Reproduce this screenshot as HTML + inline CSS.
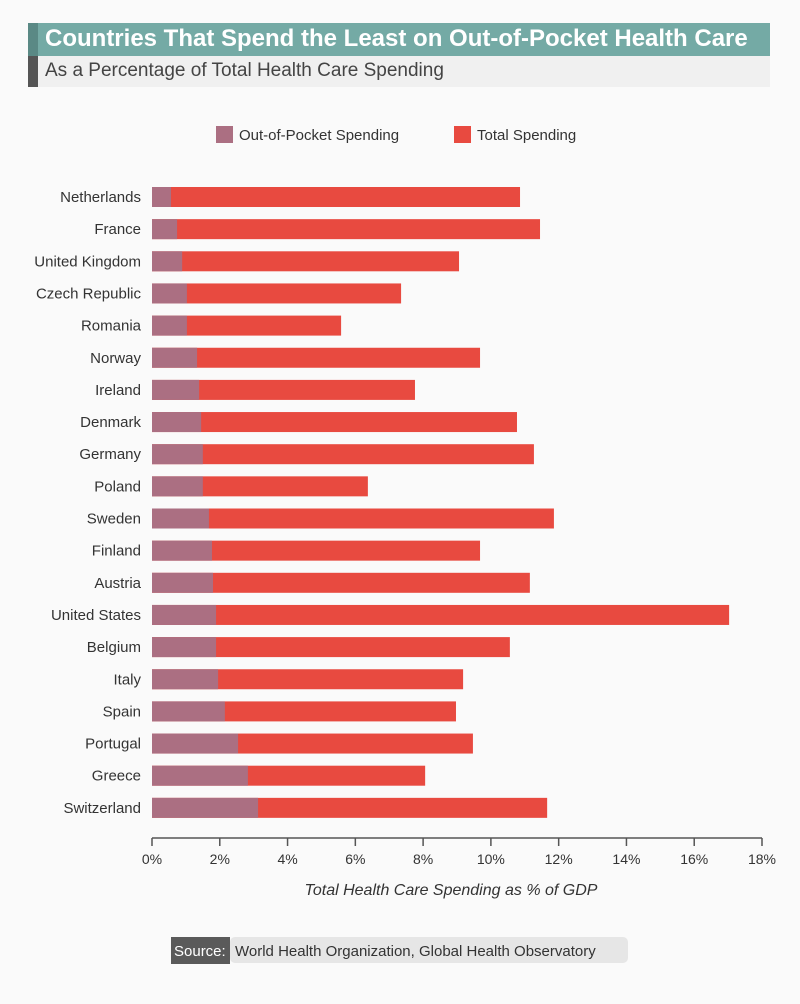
<!DOCTYPE html>
<html><head><meta charset="utf-8"><style>
body{margin:0;background:#fafafa;font-family:"Liberation Sans",sans-serif;}
#wrap{position:relative;width:800px;height:1004px;background:#fafafa;overflow:hidden}
.t{position:absolute;left:28px;top:23px;width:742px;height:33px;background:#74aaa5}
.t .s{position:absolute;left:0;top:0;width:10px;height:64px;background:#5a8985}
.t span{position:absolute;left:17px;top:2px;color:#fff;font-weight:bold;font-size:24px;white-space:nowrap;letter-spacing:0px}
.st{position:absolute;left:28px;top:56px;width:742px;height:31px;background:#f0f0f0}
.st .s{position:absolute;left:0;top:0;width:10px;height:31px;background:#555}
.st span{position:absolute;left:17px;top:4px;color:#444;font-size:19px;white-space:nowrap}
</style></head><body>
<div id="wrap">
<div class="t"><div class="s"></div><span>Countries That Spend the Least on Out-of-Pocket Health Care</span></div>
<div class="st"><div class="s"></div><span>As a Percentage of Total Health Care Spending</span></div>
<svg id="svg" width="800" height="1004" style="position:absolute;left:0;top:0"></svg>
</div>
<script>
const countries=["Netherlands","France","United Kingdom","Czech Republic","Romania","Norway","Ireland","Denmark","Germany","Poland","Sweden","Finland","Austria","United States","Belgium","Italy","Spain","Portugal","Greece","Switzerland"];
const totalValues=[10.86,11.45,9.06,7.35,5.58,9.68,7.76,10.77,11.27,6.37,11.86,9.68,11.15,17.03,10.56,9.18,8.97,9.47,8.06,11.66];
const oopValues=[0.56,0.74,0.89,1.03,1.03,1.33,1.39,1.45,1.5,1.5,1.68,1.77,1.8,1.89,1.89,1.95,2.15,2.54,2.83,3.13];
const tickLabels=["0%","2%","4%","6%","8%","10%","12%","14%","16%","18%"];
const tickValues=[0,2,4,6,8,10,12,14,16,18];
const NS="http://www.w3.org/2000/svg",svg=document.getElementById('svg');
const x=v=>152+v*(610/18);
const y=i=>187+i*32.15;
function el(t,a,txt){const e=document.createElementNS(NS,t);for(const k in a)e.setAttribute(k,a[k]);if(txt!=null)e.textContent=txt;svg.appendChild(e);return e;}
const F='"Liberation Sans",sans-serif';
let e=el('rect',{x:216,y:126,width:17,height:17,fill:'#ab6f82'});

e=el('text',{x:239,y:140,'font-size':15,fill:'#333','font-family':F},'Out-of-Pocket Spending');

e=el('rect',{x:454,y:126,width:17,height:17,fill:'#e84a40'});

e=el('text',{x:477,y:140,'font-size':15,fill:'#333','font-family':F},'Total Spending');

countries.forEach((c,i)=>{
 let r=el('rect',{x:x(0),y:y(i),width:x(totalValues[i])-x(0),height:20,fill:'#e84a40'});
 
 r=el('rect',{x:x(0),y:y(i),width:x(oopValues[i])-x(0),height:20,fill:'#ab6f82'});
 
 let t=el('text',{x:141,y:y(i)+15,'font-size':15,fill:'#333','text-anchor':'end','font-family':F},c);
 
});
let a=el('line',{x1:x(0),x2:x(18),y1:838,y2:838,stroke:'#555','stroke-width':1.5});

tickValues.forEach((v,i)=>{
 let l=el('line',{x1:x(v),x2:x(v),y1:838,y2:846,stroke:'#555','stroke-width':1.5});
 
 let t=el('text',{x:x(v),y:864,'font-size':14,fill:'#333','text-anchor':'middle','font-family':F},tickLabels[i]);
 
});
let xt=el('text',{x:451,y:895,'font-size':16,fill:'#333','font-style':'italic','text-anchor':'middle','font-family':F},'Total Health Care Spending as % of GDP');

let sb=el('rect',{x:230,y:937,width:398,height:26,rx:5,fill:'#e6e6e6'});

let sl=el('rect',{x:171,y:937,width:59,height:27,fill:'#5a5a5a'});

let st=el('text',{x:174,y:956,'font-size':15,fill:'#fff','font-family':F},'Source:');

let sv=el('text',{x:235,y:956,'font-size':15,fill:'#333','font-family':F},'World Health Organization, Global Health Observatory');

</script>
</body></html>
